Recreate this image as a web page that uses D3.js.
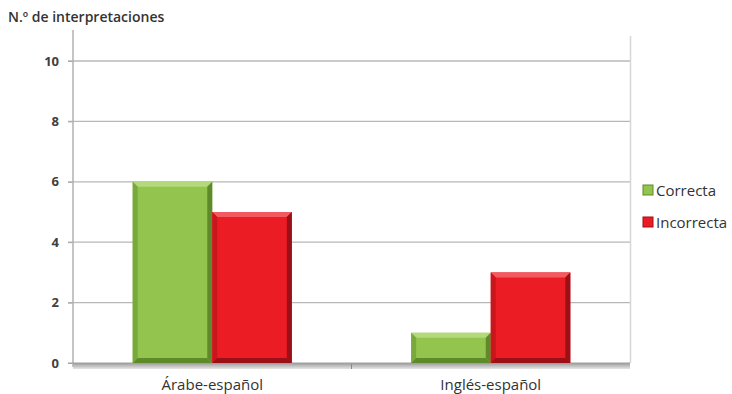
<!DOCTYPE html>
<html>
<head>
<meta charset="utf-8">
<script src="https://cdn.jsdelivr.net/npm/d3@7"></script>
<style>
  body { margin: 0; background: #fff; }
  text { font-family: "Open Sans", "Liberation Sans", sans-serif; }
</style>
</head>
<body>
<svg id="chart" width="732" height="394"></svg>
<script>
// chart data
var categories = ["Árabe-español", "Inglés-español"];
var seriesNames = ["Correcta", "Incorrecta"];
var correcta = [6, 1];
var incorrecta = [5, 3];
var yTicks = [0, 2, 4, 6, 8, 10];

var colors = {
    "Correcta":   { main: "#93c54e", light: "#b3d97a", dark: "#5f8a2c", side: "#79a83d" },
    "Incorrecta": { main: "#ec1c24", light: "#f25a5f", dark: "#9b1016", side: "#c9151c" }
};

var svg = d3.select("#chart");
var plotLeft = 73, plotRight = 630, plotTop = 36, plotBottom = 363;

var y = d3.scaleLinear().domain([0, 10]).range([plotBottom, 61]);
var x0 = d3.scaleBand().domain(categories).range([plotLeft, plotRight]);
var x1 = d3.scaleBand().domain(seriesNames).range([0, x0.bandwidth()]).paddingOuter(0.75);

var values = { "Correcta": correcta, "Incorrecta": incorrecta };

// gridlines
svg.append("g")
    .selectAll("line")
    .data(yTicks.filter(function(d) { return d > 0; }))
    .enter()
    .append("line")
    .attr("x1", plotLeft - 5)
    .attr("x2", plotRight)
    .attr("y1", function(d) { return y(d); })
    .attr("y2", function(d) { return y(d); })
    .style("stroke", "#b8b8b8")
    .style("stroke-width", 1.3);

// right edge wall
svg.append("line")
    .attr("x1", plotRight + 0.5).attr("x2", plotRight + 0.5)
    .attr("y1", plotTop).attr("y2", plotBottom)
    .style("stroke", "#d6d6d6").style("stroke-width", 1.5);

// y axis
var yAxis = svg.append("g")
    .attr("transform", "translate(" + plotLeft + ",0)")
    .call(d3.axisLeft(y).tickValues(yTicks).tickSize(5).tickPadding(9));
yAxis.select(".domain").remove();
yAxis.selectAll("line").style("stroke", "#a8a8a8");
yAxis.selectAll("text")
    .style("font-size", "13px")
    .style("font-weight", "bold")
    .style("fill", "#404040");
svg.append("line")
    .attr("x1", plotLeft).attr("x2", plotLeft)
    .attr("y1", 30).attr("y2", plotBottom + 4)
    .style("stroke", "#b0b0b0").style("stroke-width", 1.5);

// floor band
var grad = svg.append("defs").append("linearGradient")
    .attr("id", "floor").attr("x1", 0).attr("x2", 0).attr("y1", 0).attr("y2", 1);
grad.append("stop").attr("offset", "0%").attr("stop-color", "#9a9a9a");
grad.append("stop").attr("offset", "100%").attr("stop-color", "#e6e6e6");
svg.append("rect")
    .attr("x", plotLeft).attr("y", plotBottom)
    .attr("width", plotRight - plotLeft).attr("height", 6)
    .style("fill", "url(#floor)");
svg.append("line")
    .attr("x1", plotLeft - 5).attr("x2", plotRight)
    .attr("y1", plotBottom).attr("y2", plotBottom)
    .style("stroke", "#a0a0a0").style("stroke-width", 1.2);
// category separator ticks
svg.append("g")
    .selectAll("line")
    .data(categories.slice(1))
    .enter()
    .append("line")
    .attr("x1", function(d) { return x0(d); })
    .attr("x2", function(d) { return x0(d); })
    .attr("y1", plotBottom + 1).attr("y2", plotBottom + 6)
    .style("stroke", "#888");

// beveled bars
var bev = 5;
var groups = svg.append("g")
    .selectAll("g")
    .data(categories)
    .enter()
    .append("g")
    .attr("transform", function(d) { return "translate(" + x0(d) + ",0)"; });

groups.each(function(cat, i) {
    var g = d3.select(this);
    seriesNames.forEach(function(s) {
        var c = colors[s];
        var bx = x1(s), bw = x1.bandwidth();
        var by = y(values[s][i]), bh = plotBottom - by;
        var x2 = bx + bw, y2 = plotBottom;
        g.append("rect")
            .attr("x", bx).attr("y", by).attr("width", bw).attr("height", bh)
            .style("fill", c.main);
        // top bevel
        g.append("polygon")
            .attr("points", [[bx, by], [x2, by], [x2 - bev, by + bev], [bx + bev, by + bev]].join(" "))
            .style("fill", c.light);
        // left bevel
        g.append("polygon")
            .attr("points", [[bx, by], [bx + bev, by + bev], [bx + bev, y2 - bev], [bx, y2]].join(" "))
            .style("fill", c.side);
        // right bevel
        g.append("polygon")
            .attr("points", [[x2, by], [x2, y2], [x2 - bev, y2 - bev], [x2 - bev, by + bev]].join(" "))
            .style("fill", c.dark);
        // bottom bevel
        g.append("polygon")
            .attr("points", [[bx, y2], [x2, y2], [x2 - bev, y2 - bev], [bx + bev, y2 - bev]].join(" "))
            .style("fill", c.dark);
    });
});

// category labels
svg.append("g")
    .selectAll("text")
    .data(categories)
    .enter()
    .append("text")
    .attr("x", function(d) { return x0(d) + x0.bandwidth() / 2; })
    .attr("y", 390)
    .attr("text-anchor", "middle")
    .style("font-size", "15px")
    .style("fill", "#333")
    .text(function(d) { return d; });

// y title
svg.append("text")
    .attr("x", 8)
    .attr("y", 22)
    .style("font-size", "14px")
    .style("font-weight", "600")
    .style("fill", "#333")
    .text("N.º de interpretaciones");

// legend
var legend = svg.append("g")
    .selectAll("g")
    .data(seriesNames)
    .enter()
    .append("g")
    .attr("transform", function(d, i) { return "translate(643," + (185 + i * 32) + ")"; });
legend.append("rect")
    .attr("width", 10).attr("height", 10)
    .style("fill", function(d) { return colors[d].main; })
    .style("stroke", function(d) { return colors[d].dark; })
    .style("stroke-width", 1);
legend.append("text")
    .attr("x", 13).attr("y", 11)
    .style("font-size", "15px")
    .style("fill", "#333")
    .text(function(d) { return d; });
</script>
</body>
</html>
